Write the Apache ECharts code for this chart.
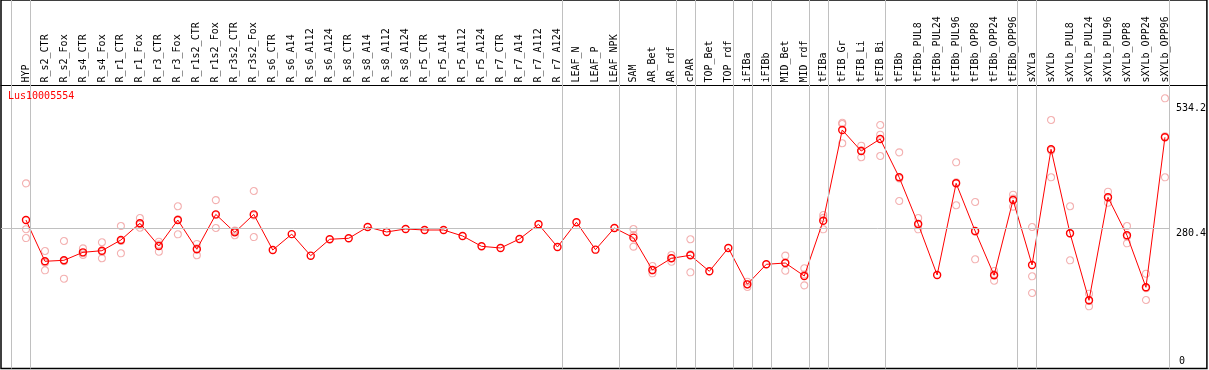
<!DOCTYPE html>
<html>
<head>
<meta charset="utf-8">
<script src="https://cdn.jsdelivr.net/npm/echarts@6/dist/echarts.min.js"></script>
<style>
  html, body { margin: 0; padding: 0; background: #fff; }
  #main { width: 1209px; height: 370px; }
</style>
</head>
<body>
<div id="main"></div>
<script>
// sample names along the top
const categories = [
  'HYP', 'R_s2_CTR', 'R_s2_Fox', 'R_s4_CTR', 'R_s4_Fox', 'R_r1_CTR', 'R_r1_Fox', 'R_r3_CTR', 'R_r3_Fox',
  'R_r1s2_CTR', 'R_r1s2_Fox', 'R_r3s2_CTR', 'R_r3s2_Fox', 'R_s6_CTR', 'R_s6_A14', 'R_s6_A112', 'R_s6_A124',
  'R_s8_CTR', 'R_s8_A14', 'R_s8_A112', 'R_s8_A124', 'R_r5_CTR', 'R_r5_A14', 'R_r5_A112', 'R_r5_A124',
  'R_r7_CTR', 'R_r7_A14', 'R_r7_A112', 'R_r7_A124', 'LEAF_N', 'LEAF_P', 'LEAF_NPK', 'SAM', 'AR_Bet', 'AR_rdf',
  'cPAR', 'TOP_Bet', 'TOP_rdf', 'iFIBa', 'iFIBb', 'MID_Bet', 'MID_rdf', 'tFIBa', 'tFIB_Gr', 'tFIB_Li', 'tFIB_Bi',
  'tFIBb', 'tFIBb_PUL8', 'tFIBb_PUL24', 'tFIBb_PUL96', 'tFIBb_OPP8', 'tFIBb_OPP24', 'tFIBb_OPP96',
  'sXYLa', 'sXYLb', 'sXYLb_PUL8', 'sXYLb_PUL24', 'sXYLb_PUL96', 'sXYLb_OPP8', 'sXYLb_OPP24', 'sXYLb_OPP96'
];

// mean expression per sample
const meanValues = [
  296.6, 212.8, 214.8, 231.0, 234.3, 256.0, 290.0, 243.9, 296.6,
  237.2, 308.0, 271.6, 308.0, 235.7, 267.9, 224.2, 257.5,
  259.5, 282.4, 272.3, 278.4, 276.3, 276.3, 264.2, 243.2,
  239.8, 258.1, 287.9, 241.8, 292.0, 236.4, 280.4, 260.8, 195.1, 218.9,
  225.0, 192.5, 239.8, 166.0, 206.7, 209.3, 183.0, 295.2, 479.4, 436.7, 461.1,
  383.3, 288.5, 185.0, 371.1, 274.3, 184.4, 337.3,
  205.3, 440.2, 269.6, 133.6, 342.7, 265.6, 160.0, 464.6
];

// replicate values (null = no replicate shown)
const rep1 = [
  371.0, 233.7, 254.0, 239.0, 251.4, 284.5, 300.7, 252.6, 324.5,
  248.0, 337.0, 275.0, 355.5, null, null, null, null,
  null, null, null, null, null, null, null, null,
  null, null, null, null, null, null, null, 278.4, 203.2, 225.6,
  257.5, null, null, 171.4, null, 224.2, 198.6, 306.8, 491.6, 447.5, 489.5,
  434.0, 300.7, null, 413.8, 333.2, 193.1, 348.0,
  282.4, 499.7, 324.5, 147.0, 354.1, 284.5, 187.6, 543.7
];
const rep2 = [
  278.0, 194.5, 177.5, 225.6, 218.9, 229.0, 281.0, 232.3, 267.6,
  225.0, 280.4, 265.6, 262.0, null, null, null, null,
  null, null, null, null, null, null, null, null,
  null, null, null, null, null, null, null, 266.0, 188.4, 212.0,
  190.4, null, null, 160.6, null, 193.7, 164.0, 277.7, 452.4, 424.0, 469.8,
  335.2, 277.7, null, 326.5, 216.8, 173.4, 323.7,
  182.3, 383.3, 214.8, 121.4, 331.8, 249.3, 134.2, 383.3
];
const rep3 = [
  260.0, 210.0, 213.0, 229.0, 232.0, 254.0, 288.0, 247.0, 298.0,
  239.0, 307.0, 274.0, 306.0, null, null, null, null,
  null, null, null, null, null, null, null, null,
  null, null, null, null, null, null, null, 242.5, 194.0, 219.0,
  227.0, null, null, 166.0, null, 210.0, 186.0, 301.0, 494.0, 438.0, 426.6,
  381.0, 287.0, null, 373.0, 273.0, 186.7, 340.0,
  148.4, 437.6, 269.5, 132.4, 342.2, 263.0, 158.2, 466.8
];

// last sample of each group (vertical separators)
const groupEnds = [-1, 0, 28, 31, 34, 35, 37, 38, 39, 41, 42, 45, 52, 53, 60];
// labels on the right axis
const yTicks = [280.4, 534.2];
const geneName = 'Lus10005554';

const monoFont = '"DejaVu Sans Mono", "Liberation Mono", monospace';
const xMin = -1.3158, xMax = 62.2105;
const yMin = -4.87, yMax = 743.3;
// hollow ring (no fill, so the line shows through like the original)
const ringSymbol = 'path://M20,10C20,15.52,15.52,20,10,20C4.48,20,0,15.52,0,10' +
  'C0,4.48,4.48,0,10,0C15.52,0,20,4.48,20,10Z';

const points = arr => arr.map((v, i) => [i, v]);
const reps = [];
[rep1, rep2, rep3].forEach(arr => arr.forEach((v, i) => { if (v !== null) reps.push([i, v]); }));

const myChart = echarts.init(document.getElementById('main'));
const option = {
  animation: false,
  backgroundColor: '#fff',
  title: {
    text: geneName,
    left: 8,
    top: 91,
    padding: 0,
    textStyle: {color: '#ff0000', fontSize: 10, fontWeight: 'normal', fontFamily: monoFont}
  },
  grid: {
    left: 1, right: 1, top: 0, bottom: 1.5,
    show: true, borderColor: '#000', borderWidth: 1.5
  },
  xAxis: {
    type: 'value',
    position: 'top',
    offset: -85.5,
    min: xMin,
    max: xMax,
    splitLine: {show: false},
    axisTick: {show: false},
    axisLine: {show: true, onZero: false, lineStyle: {color: '#000', width: 1.2}},
    axisLabel: {
      customValues: categories.map((c, i) => i),
      formatter: v => categories[Math.round(v)] || '',
      rotate: -90,
      align: 'left',
      verticalAlign: 'middle',
      hideOverlap: false,
      margin: 3,
      color: '#000',
      fontSize: 10,
      fontFamily: monoFont
    }
  },
  yAxis: [
    {
      type: 'value',
      position: 'right',
      min: yMin, max: yMax,
      splitLine: {show: false},
      axisTick: {show: false},
      axisLine: {show: false},
      axisLabel: {
        customValues: yTicks,
        formatter: v => v.toFixed(1),
        inside: true,
        align: 'left',
        verticalAlign: 'top',
        margin: 31,
        color: '#000',
        fontSize: 10,
        fontFamily: monoFont
      }
    },
    {
      type: 'value',
      position: 'right',
      min: yMin, max: yMax,
      splitLine: {show: false},
      axisTick: {show: false},
      axisLine: {show: false},
      axisLabel: {
        customValues: [0],
        formatter: v => String(v),
        inside: true,
        align: 'left',
        verticalAlign: 'bottom',
        margin: 28,
        color: '#000',
        fontSize: 10,
        fontFamily: monoFont
      }
    }
  ],
  series: [
    {
      name: 'replicates',
      type: 'scatter',
      data: reps,
      symbol: ringSymbol,
      symbolSize: 7,
      itemStyle: {color: 'rgba(0,0,0,0)', borderColor: '#f09c9c', borderWidth: 1.1},
      z: 2,
      markLine: {
        silent: true,
        symbol: 'none',
        label: {show: false},
        lineStyle: {color: '#c0c0c0', width: 1, type: 'solid'},
        data: groupEnds.map(i => ({xAxis: i + 0.24})).concat([[
          {coord: [xMin, 280.4]}, {coord: [60.24, 280.4]}
        ]])
      }
    },
    {
      name: geneName,
      type: 'line',
      data: points(meanValues),
      symbol: ringSymbol,
      symbolSize: 7,
      lineStyle: {color: '#ff0000', width: 1},
      itemStyle: {color: 'rgba(0,0,0,0)', borderColor: '#ff0000', borderWidth: 1.4},
      z: 3
    }
  ]
};
myChart.setOption(option);
</script>
</body>
</html>
